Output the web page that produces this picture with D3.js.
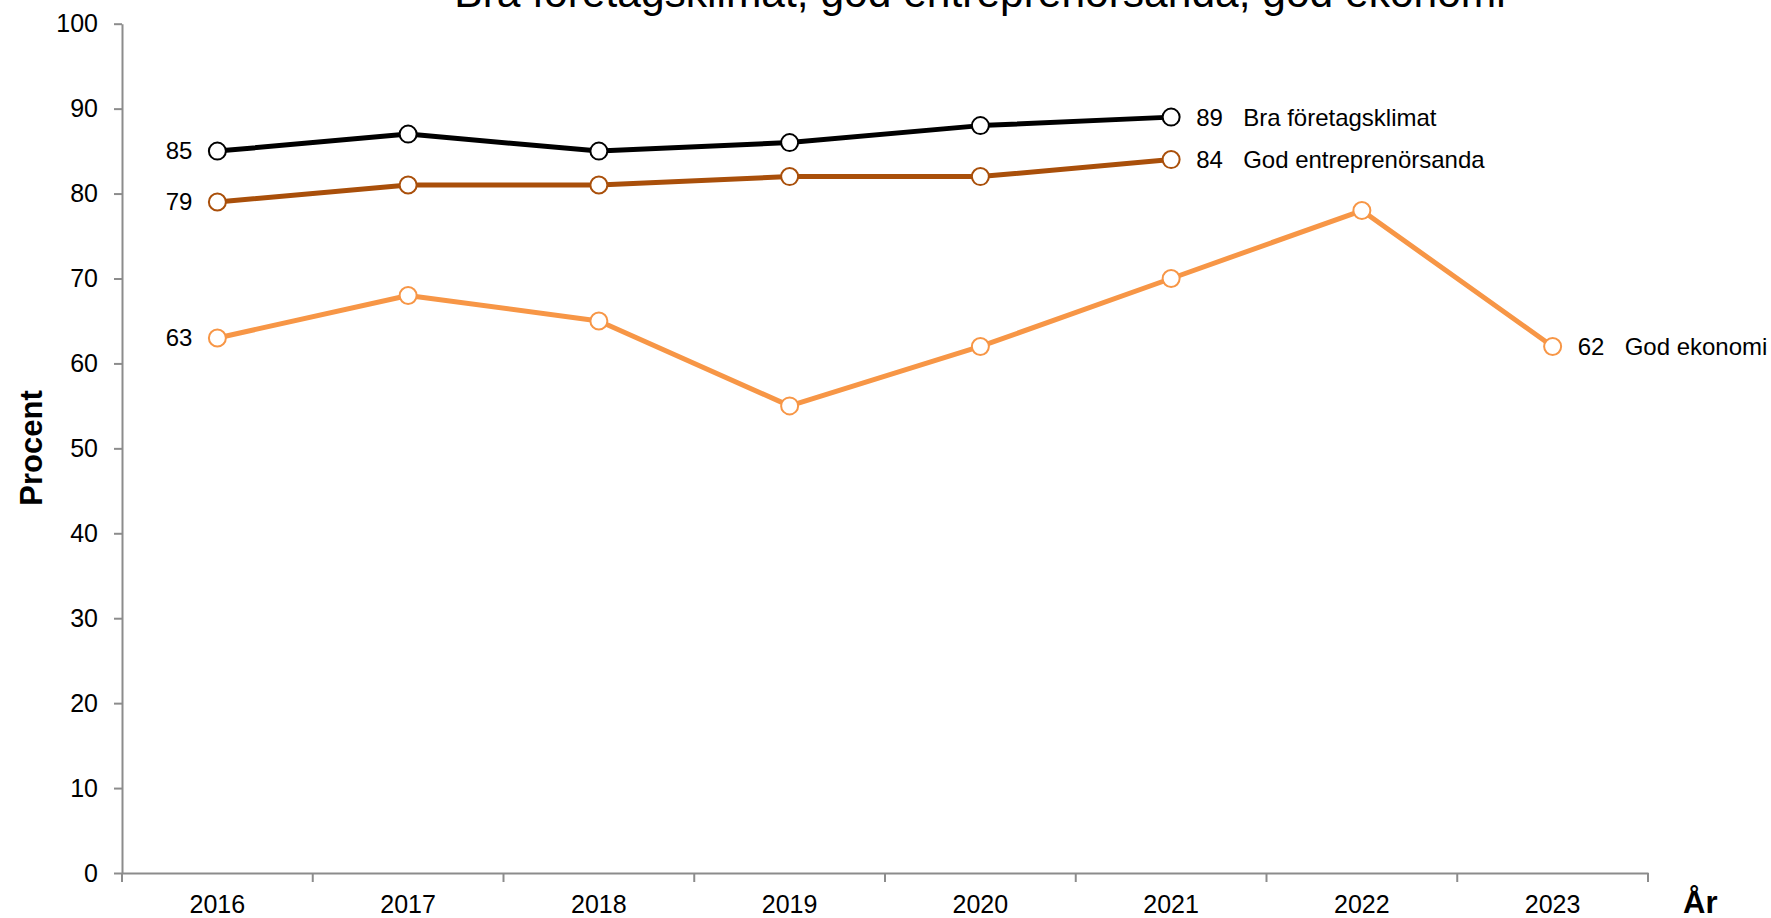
<!DOCTYPE html>
<html>
    <head>
        <meta charset="UTF-8">
        <title>Bra företagsklimat, god entreprenörsanda, god ekonomi</title>
        <style type="text/css">
            body {
                margin: 0;
                background: #ffffff;
                font-family: "Liberation Sans", Arial, sans-serif;
            }
            #chart text {
                fill: #000000;
            }
            .axis path, .axis line {
                stroke: #8c8c8c;
                stroke-width: 2;
            }
        </style>
        <script src="https://d3js.org/d3.v7.min.js"></script>
    </head>
    <body>
        <div id="chart"></div>
        <script>
            const title = "Bra företagsklimat, god entreprenörsanda, god ekonomi";
            const years = ["2016", "2017", "2018", "2019", "2020", "2021", "2022", "2023"];
            const y_ticks = [0, 10, 20, 30, 40, 50, 60, 70, 80, 90, 100];

            const series_names = ["Bra företagsklimat", "God entreprenörsanda", "God ekonomi"];
            const bra_foretagsklimat = [85, 87, 85, 86, 88, 89];
            const god_entreprenorsanda = [79, 81, 81, 82, 82, 84];
            const god_ekonomi = [63, 68, 65, 55, 62, 70, 78, 62];
            const series_colors = ["#000000", "#a94f0a", "#f79646"];

            const width = 1771;
            const height = 918;
            const margin = {top: 23.7, right: 123, bottom: 45, left: 122};

            const svg = d3.select("#chart")
                .append("svg")
                .attr("width", width)
                .attr("height", height);

            const x = d3.scaleBand()
                .domain(years)
                .range([margin.left, width - margin.right])
                .padding(0);

            const y = d3.scaleLinear()
                .domain([0, 100])
                .range([height - margin.bottom, margin.top]);

            // y axis
            svg.append("g")
                .attr("class", "axis")
                .attr("transform", `translate(${margin.left}, 0)`)
                .call(d3.axisLeft(y).tickValues(y_ticks).tickSize(8).tickPadding(16).tickSizeOuter(0))
                .call(g => g.selectAll("text")
                    .style("font-size", "25px")
                    .style("font-family", "Liberation Sans, Arial, sans-serif"));

            // x axis, labels centred in bands, ticks on the band edges
            const x_axis = svg.append("g")
                .attr("class", "axis")
                .attr("transform", `translate(0, ${y(0)})`)
                .call(d3.axisBottom(x).tickSize(0).tickPadding(22).tickSizeOuter(0))
                .call(g => g.selectAll("text")
                    .style("font-size", "25px")
                    .style("font-family", "Liberation Sans, Arial, sans-serif"));

            const edges = years.map(d => x(d)).concat([x(years[years.length - 1]) + x.bandwidth()]);
            x_axis.selectAll(".edge")
                .data(edges)
                .enter()
                .append("line")
                .attr("class", "edge")
                .attr("x1", d => d)
                .attr("x2", d => d)
                .attr("y1", 0)
                .attr("y2", 9);

            // titles
            svg.append("text")
                .attr("x", 980)
                .attr("y", 7)
                .attr("text-anchor", "middle")
                .style("font-size", "42.5px")
                .text(title);

            svg.append("text")
                .attr("transform", `translate(42, 448) rotate(-90)`)
                .attr("text-anchor", "middle")
                .style("font-size", "31px")
                .style("font-weight", "bold")
                .text("Procent");

            svg.append("text")
                .attr("x", 1683)
                .attr("y", 913)
                .style("font-size", "31px")
                .style("font-weight", "bold")
                .text("År");

            // lines
            const cx = (d, i) => x(years[i]) + x.bandwidth() / 2;
            const line = d3.line()
                .x(cx)
                .y(d => y(d));

            const all_series = [bra_foretagsklimat, god_entreprenorsanda, god_ekonomi];

            all_series.forEach((values, s) => {
                const color = series_colors[s];
                const g = svg.append("g");

                g.append("path")
                    .datum(values)
                    .attr("fill", "none")
                    .attr("stroke", color)
                    .attr("stroke-width", 5)
                    .attr("stroke-linejoin", "round")
                    .attr("d", line);

                g.selectAll("circle")
                    .data(values)
                    .enter()
                    .append("circle")
                    .attr("cx", cx)
                    .attr("cy", d => y(d))
                    .attr("r", 8.5)
                    .attr("fill", "#ffffff")
                    .attr("stroke", color)
                    .attr("stroke-width", 2);

                const last = values.length - 1;
                const lx = cx(values[last], last);

                g.append("text")
                    .attr("x", cx(values[0], 0) - 25)
                    .attr("y", y(values[0]))
                    .attr("dy", "0.35em")
                    .attr("text-anchor", "end")
                    .style("font-size", "24px")
                    .text(values[0]);

                g.append("text")
                    .attr("x", lx + 25)
                    .attr("y", y(values[last]))
                    .attr("dy", "0.35em")
                    .style("font-size", "24px")
                    .text(values[last]);

                g.append("text")
                    .attr("x", lx + 72)
                    .attr("y", y(values[last]))
                    .attr("dy", "0.35em")
                    .style("font-size", "24px")
                    .text(series_names[s]);
            });
        </script>
    </body>
</html>
